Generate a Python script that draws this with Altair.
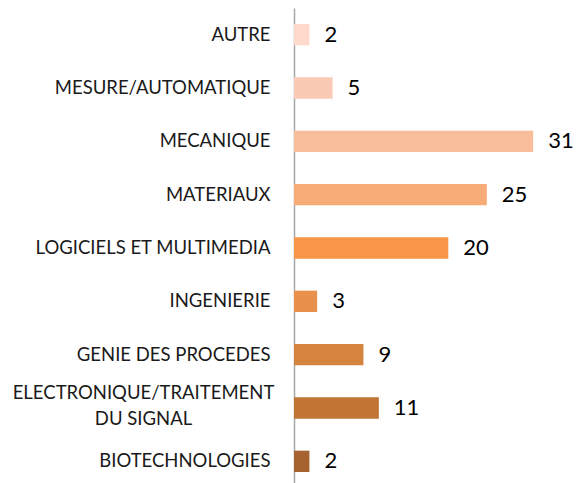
import altair as alt
import pandas as pd

categories = ["AUTRE", "MESURE/AUTOMATIQUE", "MECANIQUE", "MATERIAUX",
              "LOGICIELS ET MULTIMEDIA", "INGENIERIE", "GENIE DES PROCEDES",
              "ELECTRONIQUE/TRAITEMENT DU SIGNAL", "BIOTECHNOLOGIES"]
values = [2, 5, 31, 25, 20, 3, 9, 11, 2]
colors = ["#FDDACB", "#F9CAB4", "#F8BD9B", "#F7AC78", "#F79646",
          "#E9904A", "#D5843F", "#C17535", "#A6632F"]

df = pd.DataFrame({"cat": categories, "val": values, "color": colors})

long_label = "ELECTRONIQUE/TRAITEMENT DU SIGNAL"
is_long = "datum.value == '" + long_label + "'"

y = alt.Y("cat:N", sort=categories, title=None,
          scale=alt.Scale(paddingInner=0.6, paddingOuter=0.3),
          axis=alt.Axis(
              domainColor="#A6A6A6", domainWidth=1.5, ticks=False, grid=False,
              labelFont="Lato", labelFontSize=18.5, labelColor="#1a1a1a",
              labelLimit=400, labelLineHeight=26, labelOverlap=False,
              labelExpr=is_long + " ? ['ELECTRONIQUE/TRAITEMENT', 'DU SIGNAL'] : datum.value",
              labelAlign=alt.ExprRef(is_long + " ? 'center' : 'right'"),
              labelPadding=alt.ExprRef(is_long + " ? 151 : 24"),
              labelOffset=alt.ExprRef(is_long + " ? -15 : 0"),
          ))

x = alt.X("val:Q", title=None, scale=alt.Scale(domain=[0, 35]), axis=None)

bars = alt.Chart(df).mark_bar().encode(
    x=x, y=y, color=alt.Color("color:N", scale=None)
)

text = alt.Chart(df).mark_text(align="left", baseline="middle", dx=15,
                               font="Lato", fontSize=22, color="#000000").encode(
    x=x, y=alt.Y("cat:N", sort=categories), text="val:Q"
)

chart = (bars + text).properties(
    width=270, height=480,
    autosize=alt.AutoSizeParams(type="none"),
    padding={"left": 286, "top": 0, "right": 10, "bottom": 0},
).configure_view(stroke=None)

chart.save("out.html", embed_options={"renderer": "svg", "actions": False})
